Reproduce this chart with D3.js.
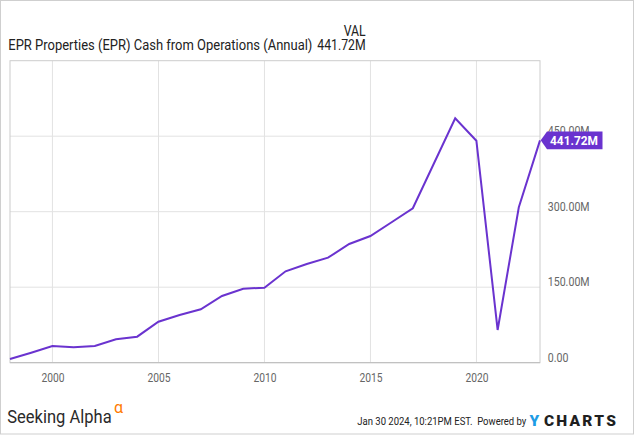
<!DOCTYPE html>
<html>
<head>
<meta charset="utf-8">
<script src="https://cdn.jsdelivr.net/npm/d3@7"></script>
<style>
  html, body { margin: 0; padding: 0; background: #fff; }
  svg { display: block; }
  text { font-family: Roboto, "Liberation Sans", sans-serif; }
</style>
</head>
<body>
<svg id="chart" width="635" height="435"></svg>
<script>
// ---- data ----
const fiscalYears = [1997,1998,1999,2000,2001,2002,2003,2004,2005,2006,2007,2008,2009,2010,2011,2012,2013,2014,2015,2016,2017,2018,2019,2020,2021,2022];
const cashFromOps = [7.4,19.9,33.2,30.6,33.2,46.5,51.7,81.5,94.8,106.1,132.5,147.0,149.0,181.6,196.1,208.6,235.8,251.7,279.0,306.8,396.2,485.6,441.0,65.0,308.7,441.72];
const yTicks = [0, 150, 300, 450];
const xTickYears = [2000, 2005, 2010, 2015, 2020];
const titleText = "EPR Properties (EPR) Cash from Operations (Annual)";
const lastValueLabel = "441.72M";
const headerLabel = "VAL";
const footerStamp = "Jan 30 2024, 10:21PM EST.  Powered by";

// ---- layout ----
const W = 635, H = 435;
const plot = { left: 10, right: 540, top: 60.7, bottom: 362.7 };
const lineColor = "#6a33cf";

const svg = d3.select("#chart");

const data = fiscalYears.map((y, i) => ({ date: new Date(y, 11, 31), value: cashFromOps[i] }));

const x = d3.scaleTime()
  .domain([new Date(1997, 11, 31), new Date(2022, 11, 31)])
  .range([plot.left, plot.right]);
const y = d3.scaleLinear().domain([0, 600]).range([plot.bottom, plot.top]);

function condense(sel, factor) {
  sel.each(function () {
    const len = this.getComputedTextLength();
    d3.select(this).attr("textLength", len * factor).attr("lengthAdjust", "spacingAndGlyphs");
  });
}
// place a text at (px,py) horizontally scaled so that its width equals target
function fitText(sel, px, py, target) {
  const len = sel.node().getComputedTextLength();
  const sx = target / len;
  sel.attr("x", 0).attr("y", 0).attr("transform", `translate(${px},${py}) scale(${sx},1)`);
  return sel;
}

// outer frame
svg.append("rect").attr("x", 0.5).attr("y", 0.5).attr("width", W - 2).attr("height", H - 1.5)
  .attr("fill", "none").attr("stroke", "#cfcfcf").attr("stroke-width", 1);

// gridlines
const grid = svg.append("g");
grid.selectAll("line.h").data(yTicks.filter(d => d > 0)).enter().append("line")
  .attr("x1", plot.left).attr("x2", plot.right)
  .attr("y1", d => y(d)).attr("y2", d => y(d))
  .attr("stroke", "#e2e2e2").attr("stroke-width", 1);
grid.selectAll("line.v").data(xTickYears).enter().append("line")
  .attr("x1", d => x(new Date(d, 0, 1))).attr("x2", d => x(new Date(d, 0, 1)))
  .attr("y1", plot.top).attr("y2", plot.bottom)
  .attr("stroke", "#e2e2e2").attr("stroke-width", 1);

// plot frame
svg.append("rect").attr("x", plot.left).attr("y", plot.top)
  .attr("width", plot.right - plot.left).attr("height", plot.bottom - plot.top)
  .attr("fill", "none").attr("stroke", "#cccccc").attr("stroke-width", 1);
svg.append("line").attr("x1", plot.left).attr("x2", plot.right)
  .attr("y1", plot.bottom).attr("y2", plot.bottom).attr("stroke", "#bdbdbd");

// y axis (right)
const yAxis = d3.axisRight(y).tickValues(yTicks).tickSize(0).tickPadding(7.7)
  .tickFormat(d => d === 0 ? "0.00" : d3.format(".2f")(d) + "M");
const yg = svg.append("g").attr("transform", `translate(${plot.right},0)`).call(yAxis);
yg.select(".domain").remove();
yg.selectAll("text").attr("fill", "#666").attr("font-size", "12.5px").attr("dy", "-1.6px")
  .attr("font-family", "Roboto, sans-serif");
condense(yg.selectAll("text"), 0.85);

// x axis
const xAxis = d3.axisBottom(x).tickValues(xTickYears.map(d => new Date(d, 0, 1)))
  .tickSize(0).tickPadding(10).tickFormat(d3.timeFormat("%Y"));
const xg = svg.append("g").attr("transform", `translate(0,${plot.bottom})`).call(xAxis);
xg.select(".domain").remove();
xg.selectAll("text").attr("fill", "#666").attr("font-size", "12.5px").attr("dy", "0.71em")
  .attr("font-family", "Roboto, sans-serif");
condense(xg.selectAll("text"), 0.82);

// line
const line = d3.line().x(d => x(d.date)).y(d => y(d.value));
svg.append("path").datum(data).attr("d", line)
  .attr("fill", "none").attr("stroke", lineColor).attr("stroke-width", 2)
  .attr("stroke-linejoin", "miter");

// last value tag
const last = data[data.length - 1];
const tx = x(last.date), ty = y(last.value);
const tag = svg.append("g").attr("transform", `translate(${tx},${ty})`);
tag.append("path")
  .attr("d", "M0.7,0 L7,-8.8 L62.5,-8.8 L62.5,8.8 L7,8.8 Z")
  .attr("fill", lineColor);
fitText(tag.append("text").attr("fill", "#fff")
  .attr("font-size", "13px").attr("font-weight", "bold").text(lastValueLabel), 10, 4.6, 48);

// header
fitText(svg.append("text").attr("fill", "#222").attr("font-size", "14.5px").text(headerLabel),
  343.7, 35.5, 22);
fitText(svg.append("text").attr("fill", "#222").attr("font-size", "14.5px").text(titleText),
  8.3, 50, 304.4);
fitText(svg.append("text").attr("fill", "#222").attr("font-size", "14.5px").text(lastValueLabel),
  317.3, 50, 48.4);

// footer: Seeking Alpha
fitText(svg.append("text").attr("fill", "#2a2a2a")
  .attr("font-family", "'Open Sans', 'DejaVu Sans', sans-serif").attr("font-size", "18px")
  .text("Seeking Alpha"), 7.3, 423.3, 104.4);
svg.append("text").attr("x", 114).attr("y", 412.5).attr("fill", "#ff7a00")
  .attr("font-family", "'DejaVu Sans', sans-serif").attr("font-size", "16px").text("α");

// footer: stamp + YCHARTS
fitText(svg.append("text").attr("fill", "#222").attr("font-size", "11px")
  .attr("xml:space", "preserve").style("white-space", "pre").text(footerStamp), 357.3, 425, 169.4);
svg.append("text").attr("x", 529.5).attr("y", 426).attr("font-size", "15.5px")
  .attr("font-weight", "900").attr("font-family", "Lato, Roboto, sans-serif")
  .attr("fill", "#1d9ce5").text("Y");
svg.append("text").attr("x", 544).attr("y", 426).attr("font-size", "15.5px")
  .attr("font-weight", "900").attr("font-family", "Lato, Roboto, sans-serif")
  .attr("fill", "#1f1f1f").attr("letter-spacing", "2.2px").text("CHARTS");
</script>
</body>
</html>
